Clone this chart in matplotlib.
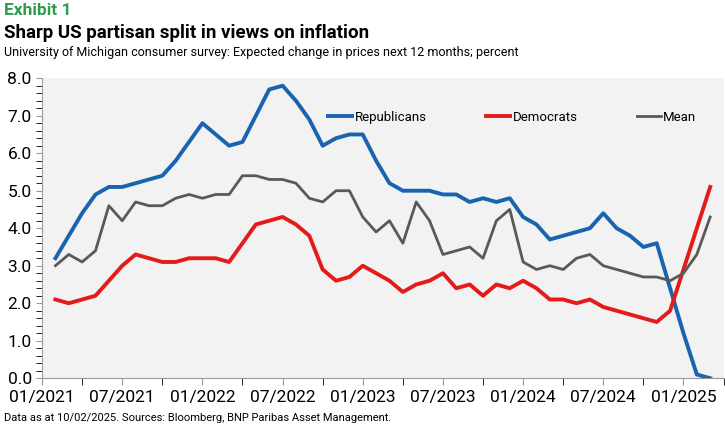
import numpy as np
import matplotlib.pyplot as plt
from matplotlib.ticker import MultipleLocator, FixedLocator

plt.rcParams['font.family'] = ['Roboto', 'DejaVu Sans']

# monthly data, Feb 2021 .. Mar 2025 (month index 1 = 02/2021)
months = np.arange(1, 51)
republicans = [3.2, 3.8, 4.4, 4.9, 5.1, 5.1, 5.2, 5.3, 5.4, 5.8, 6.3,
               6.8, 6.5, 6.2, 6.3, 7.0, 7.7, 7.8, 7.4, 6.9, 6.2, 6.4, 6.5,
               6.5, 5.8, 5.2, 5.0, 5.0, 5.0, 4.9, 4.9, 4.7, 4.8, 4.7, 4.8,
               4.3, 4.1, 3.7, 3.8, 3.9, 4.0, 4.4, 4.0, 3.8, 3.5, 3.6, 2.4,
               1.2, 0.1, 0.0]
democrats = [2.1, 2.0, 2.1, 2.2, 2.6, 3.0, 3.3, 3.2, 3.1, 3.1, 3.2,
             3.2, 3.2, 3.1, 3.6, 4.1, 4.2, 4.3, 4.1, 3.8, 2.9, 2.6, 2.7,
             3.0, 2.8, 2.6, 2.3, 2.5, 2.6, 2.8, 2.4, 2.5, 2.2, 2.5, 2.4,
             2.6, 2.4, 2.1, 2.1, 2.0, 2.1, 1.9, 1.8, 1.7, 1.6, 1.5, 1.8,
             2.9, 4.0, 5.1]
mean = [3.0, 3.3, 3.1, 3.4, 4.6, 4.2, 4.7, 4.6, 4.6, 4.8, 4.9,
        4.8, 4.9, 4.9, 5.4, 5.4, 5.3, 5.3, 5.2, 4.8, 4.7, 5.0, 5.0,
        4.3, 3.9, 4.2, 3.6, 4.7, 4.2, 3.3, 3.4, 3.5, 3.2, 4.2, 4.5,
        3.1, 2.9, 3.0, 2.9, 3.2, 3.3, 3.0, 2.9, 2.8, 2.7, 2.7, 2.6,
        2.8, 3.3, 4.3]
tick_labels = ["01/2021", "07/2021", "01/2022", "07/2022", "01/2023",
               "07/2023", "01/2024", "07/2024", "01/2025"]

fig = plt.figure(figsize=(7.25, 4.25), dpi=100)
ax = fig.add_axes([0.058, 0.11, 0.94, 0.706])
ax.set_facecolor('#f2f2f2')

ax.plot(months, republicans, color='#1a63b0', lw=2.8, label='Republicans')
ax.plot(months, democrats, color='#e31b1b', lw=2.8, label='Democrats')
ax.plot(months, mean, color='#595959', lw=2.0, label='Mean')

ax.set_xlim(0, 51)
ax.set_ylim(0, 8)
ax.xaxis.set_major_locator(FixedLocator(np.arange(0, 49, 6)))
ax.set_xticklabels(tick_labels)
ax.xaxis.set_minor_locator(FixedLocator(np.arange(3, 52, 6)))
ax.yaxis.set_major_locator(MultipleLocator(1))
ax.yaxis.set_minor_locator(MultipleLocator(0.2))
ax.yaxis.set_major_formatter(plt.FormatStrFormatter('%.1f'))
ax.tick_params(axis='both', labelsize=12.5, color='#999999', direction='out')
ax.tick_params(axis='y', which='both', length=4)
ax.tick_params(axis='x', which='both', length=5)
for s in ['top', 'right']:
    ax.spines[s].set_visible(False)
for s in ['left', 'bottom']:
    ax.spines[s].set_color('#999999')

ax.legend(loc='center', bbox_to_anchor=(0.69, 0.87), ncol=3, frameon=False,
          fontsize=9.5, handlelength=1.8, columnspacing=4.5, handletextpad=0.2)

fig.text(0.005, 0.965, "Exhibit 1", color='#2e9b4e', fontsize=12.5, fontweight='bold')
fig.text(0.005, 0.91, "Sharp US partisan split in views on inflation", fontsize=13.5,
         fontweight='bold')
fig.text(0.005, 0.868, "University of Michigan consumer survey: Expected change in prices next 12 months; percent",
         fontsize=9)
fig.text(0.005, 0.01, "Data as at 10/02/2025. Sources: Bloomberg, BNP Paribas Asset Management.",
         fontsize=8)

fig.savefig('out.png', dpi=100)
